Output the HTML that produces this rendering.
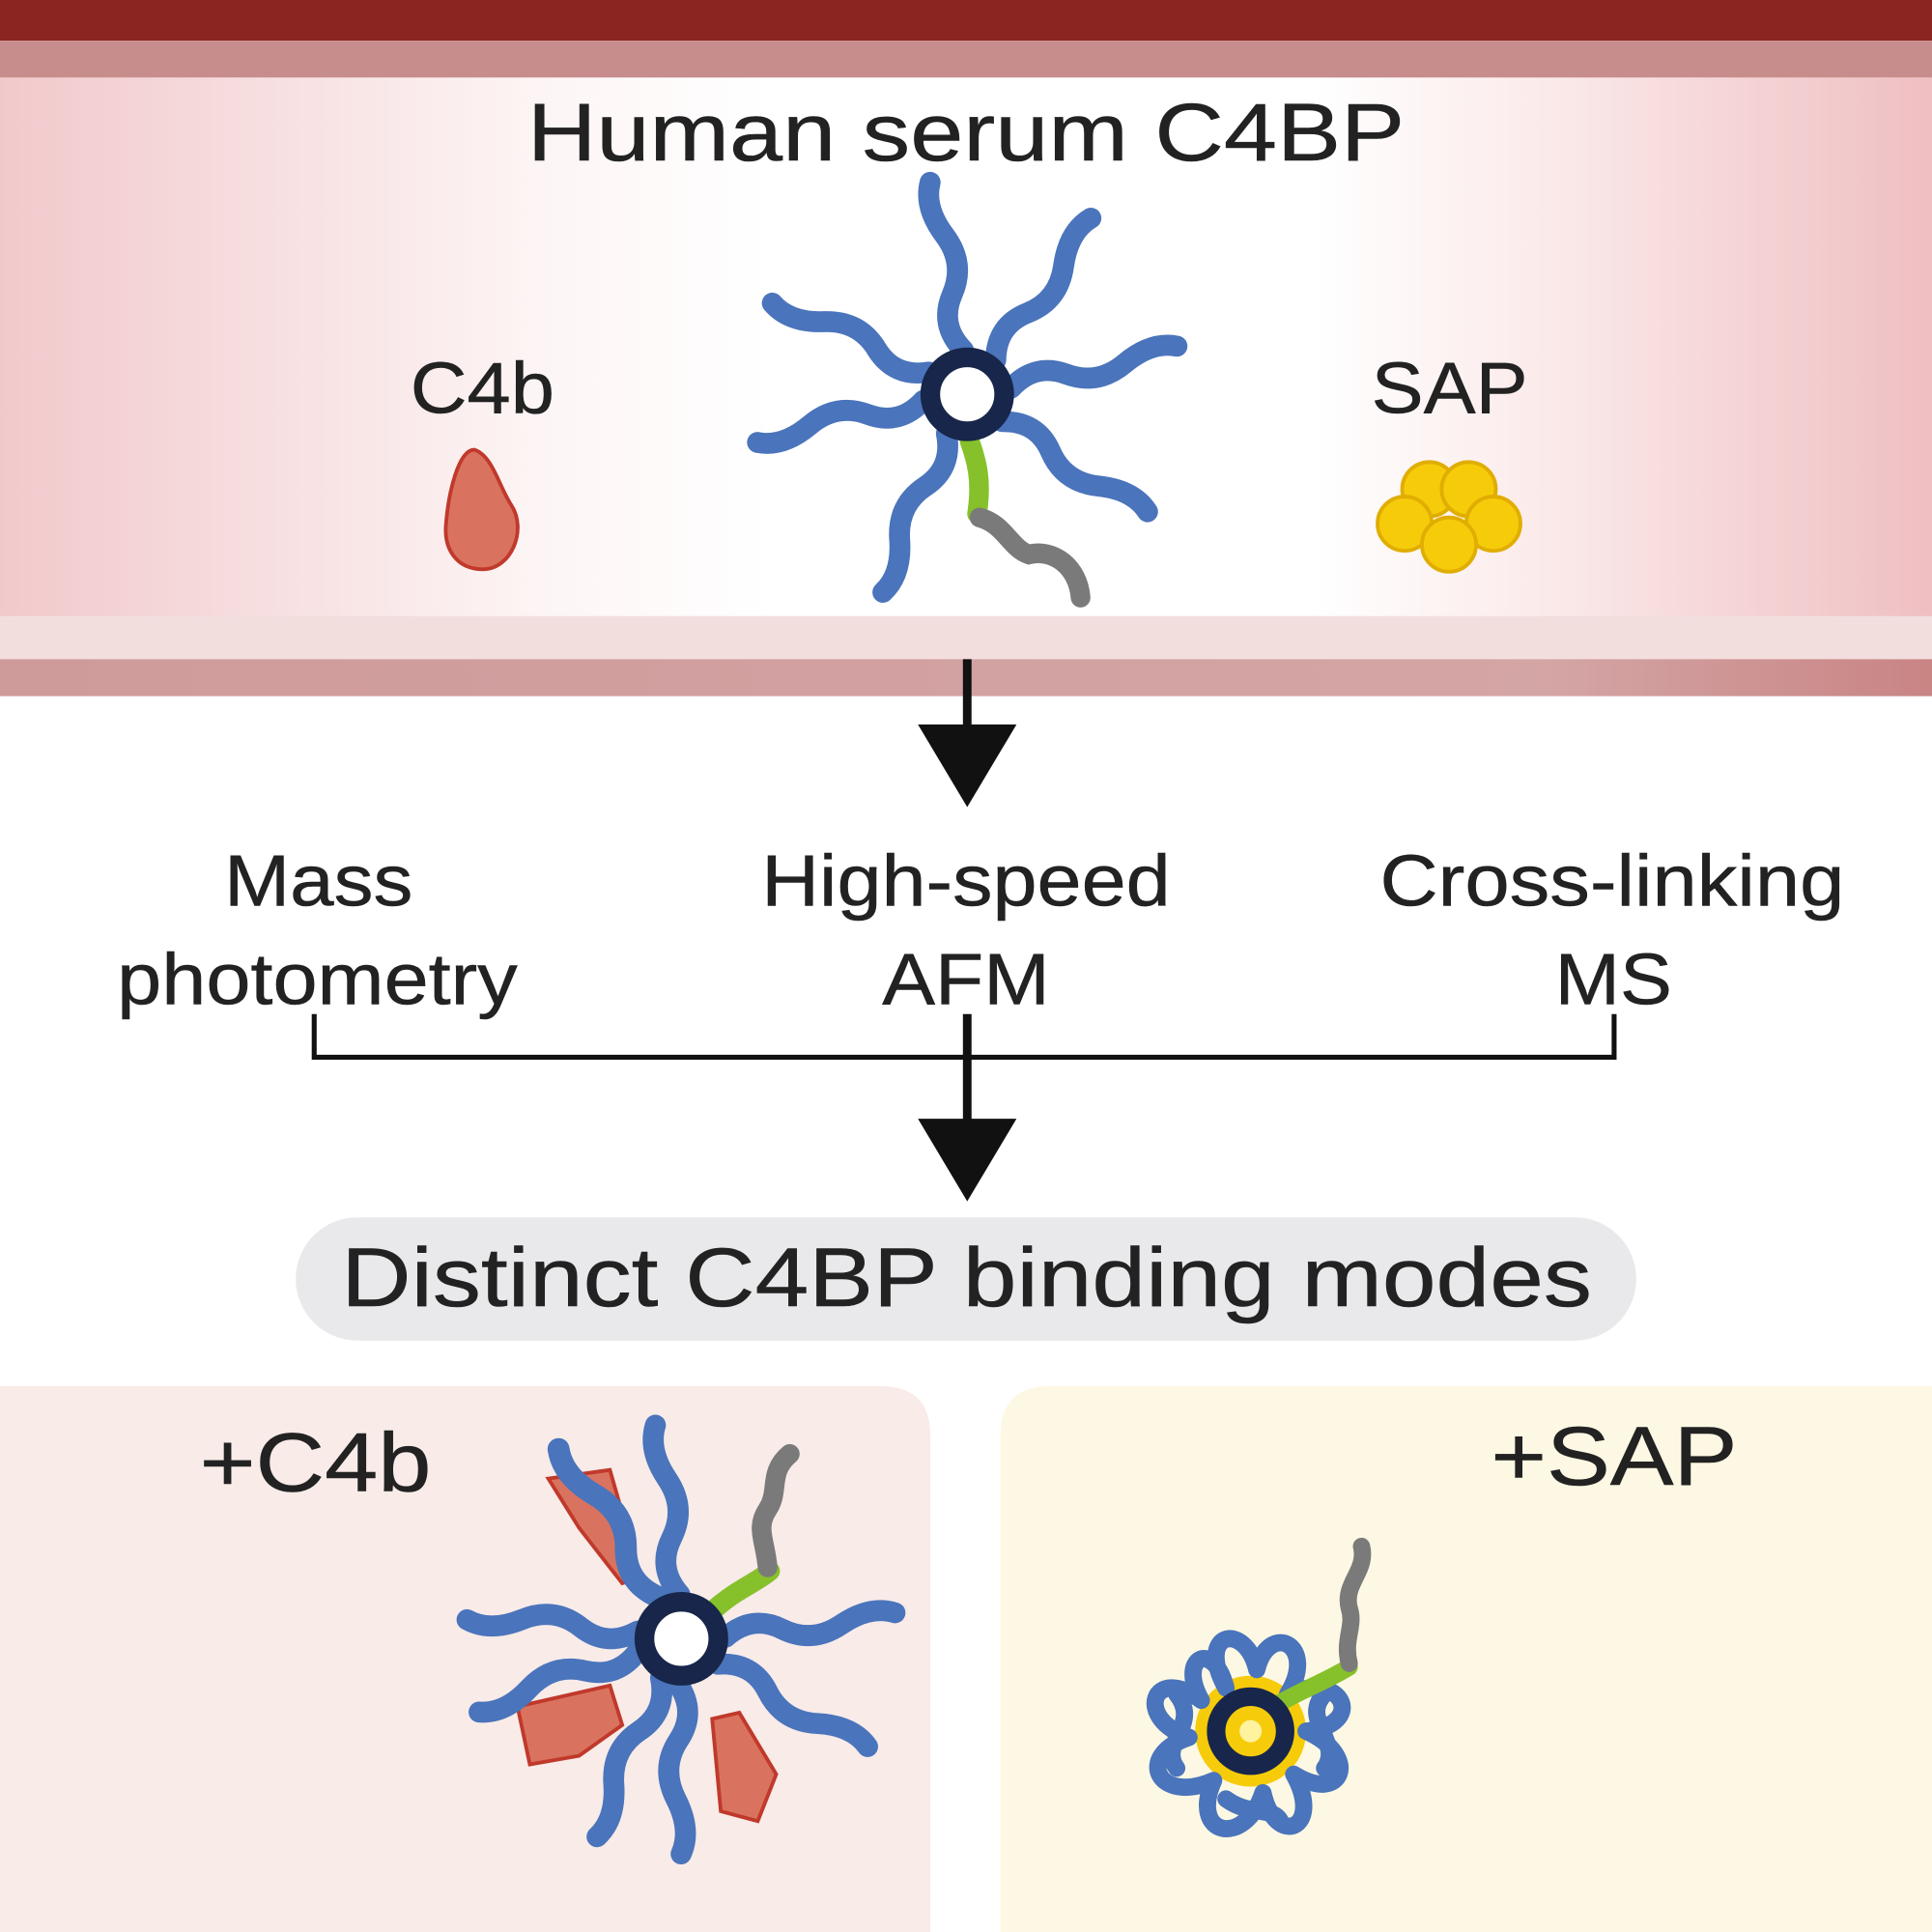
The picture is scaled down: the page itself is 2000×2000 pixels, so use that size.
<!DOCTYPE html>
<html><head><meta charset="utf-8"><style>html,body{margin:0;padding:0;background:#fff}svg{display:block}</style></head>
<body>
<svg width="2000" height="2000" viewBox="0 0 1568 1568" xmlns="http://www.w3.org/2000/svg" font-family="Liberation Sans, sans-serif">
<defs>
<linearGradient id="pk" x1="0" x2="1" y1="0" y2="0">
<stop offset="0" stop-color="#f1c9cb"/><stop offset="0.28" stop-color="#fdf5f5"/><stop offset="0.4" stop-color="#ffffff"/><stop offset="0.68" stop-color="#ffffff"/><stop offset="0.8" stop-color="#fbeaea"/><stop offset="1" stop-color="#efbfc2"/>
</linearGradient>
<linearGradient id="bd" x1="0" x2="1"><stop offset="0" stop-color="#cf9a9a"/><stop offset="0.8" stop-color="#d4a5a5"/><stop offset="1" stop-color="#c98484"/></linearGradient>
<g id="arm"><path d="M36,0 q22,-18 46,-5 t48,-2 t44,-8" fill="none" stroke="#4a74bb" stroke-width="17" stroke-linecap="round"/></g>
</defs>
<rect x="0" y="0" width="1568" height="33" fill="#8a2521"/>
<rect x="0" y="33" width="1568" height="30" fill="#c78d8c"/>
<rect x="0" y="63" width="1568" height="440" fill="url(#pk)"/>
<rect x="0" y="500" width="1568" height="36" fill="#f3dede"/>
<rect x="0" y="535" width="1568" height="30" fill="url(#bd)"/>
<g fill="#222" stroke="#222" stroke-width="0.4">
<text x="428" y="130" font-size="66" textLength="712" lengthAdjust="spacingAndGlyphs">Human serum C4BP</text>
<text x="333" y="335" font-size="59" textLength="117" lengthAdjust="spacingAndGlyphs">C4b</text>
<text x="1113" y="335" font-size="59" textLength="127" lengthAdjust="spacingAndGlyphs">SAP</text>
<text x="182" y="735" font-size="59" textLength="153" lengthAdjust="spacingAndGlyphs">Mass</text>
<text x="95" y="815" font-size="59" textLength="325" lengthAdjust="spacingAndGlyphs">photometry</text>
<text x="618" y="735" font-size="59" textLength="332" lengthAdjust="spacingAndGlyphs">High-speed</text>
<text x="716" y="815" font-size="59" textLength="136" lengthAdjust="spacingAndGlyphs">AFM</text>
<text x="1120" y="735" font-size="59" textLength="377" lengthAdjust="spacingAndGlyphs">Cross-linking</text>
<text x="1262" y="815" font-size="59" textLength="95" lengthAdjust="spacingAndGlyphs">MS</text>
</g>
<path d="M385,365 C400,370 405,395 415,410 C428,430 415,462 392,462 C370,462 360,445 362,425 C364,400 372,365 385,365Z" fill="#d9735f" stroke="#c0392b" stroke-width="3"/>
<g fill="#f6cb0a" stroke="#e0ad00" stroke-width="3">
<circle cx="1160" cy="397" r="22"/><circle cx="1192" cy="397" r="22"/><circle cx="1140" cy="425" r="22"/><circle cx="1212" cy="425" r="22"/><circle cx="1176" cy="442" r="22"/>
</g>
<g transform="translate(785,320)">
<g transform="rotate(-95)"><use href="#arm"/></g>
<g transform="rotate(-50)"><use href="#arm"/></g>
<g transform="rotate(-8)"><use href="#arm"/></g>
<g transform="rotate(38)"><use href="#arm"/></g>
<g transform="rotate(118)"><use href="#arm"/></g>
<g transform="rotate(172)"><use href="#arm"/></g>
<g transform="rotate(-150)"><use href="#arm"/></g>
<path d="M2,38 C8,55 12,70 8,97" fill="none" stroke="#86c12b" stroke-width="16" stroke-linecap="round"/>
<path d="M10,100 C30,105 35,125 50,130 C70,125 90,140 92,165" fill="none" stroke="#7a7a7a" stroke-width="16" stroke-linecap="round"/>
<circle r="30" fill="#fff" stroke="#17264a" stroke-width="16"/>
</g>
<line x1="785" y1="535" x2="785" y2="600" stroke="#111" stroke-width="7"/>
<polygon points="745,588 825,588 785,655" fill="#111"/>
<path d="M255,823 V858 H1310 V823" fill="none" stroke="#111" stroke-width="4"/>
<line x1="785" y1="823" x2="785" y2="915" stroke="#111" stroke-width="7"/>
<polygon points="745,908 825,908 785,975" fill="#111"/>
<rect x="240" y="988" width="1088" height="100" rx="50" fill="#e9e9ec"/>
<text x="277" y="1060" font-size="68" textLength="1015" lengthAdjust="spacingAndGlyphs" fill="#222" stroke="#222" stroke-width="0.4">Distinct C4BP binding modes</text>
<path d="M0,1125 H715 Q755,1125 755,1165 V1568 H0Z" fill="#f8ebe8"/>
<path d="M852,1125 H1568 V1568 H812 V1165 Q812,1125 852,1125Z" fill="#fdf8e3"/>
<text x="162" y="1210" font-size="68" textLength="188" lengthAdjust="spacingAndGlyphs" fill="#222" stroke="#222" stroke-width="0.4">+C4b</text>
<text x="1210" y="1205" font-size="68" textLength="200" lengthAdjust="spacingAndGlyphs" fill="#222" stroke="#222" stroke-width="0.4">+SAP</text>
<g fill="#d9735f" stroke="#c0392b" stroke-width="3">
<path d="M445,1200 L495,1193 L520,1280 L505,1285 L470,1240Z"/>
<path d="M420,1385 L495,1368 L505,1400 L470,1425 L430,1432Z"/>
<path d="M578,1395 L600,1390 L630,1440 L615,1478 L585,1470Z"/>
</g>
<g transform="translate(553,1330)">
<g transform="rotate(-92)"><use href="#arm"/></g>
<g transform="rotate(-118) scale(1.05)"><use href="#arm"/></g>
<g transform="rotate(-2)"><use href="#arm"/></g>
<g transform="rotate(35)"><use href="#arm"/></g>
<g transform="rotate(95)"><use href="#arm"/></g>
<g transform="rotate(118)"><use href="#arm"/></g>
<g transform="rotate(165)"><use href="#arm"/></g>
<g transform="rotate(-170)"><use href="#arm"/></g>
<path d="M28,-25 C45,-40 60,-45 72,-55" fill="none" stroke="#86c12b" stroke-width="16" stroke-linecap="round"/>
<path d="M70,-58 C68,-80 60,-90 70,-105 C80,-120 70,-135 88,-150" fill="none" stroke="#7a7a7a" stroke-width="16" stroke-linecap="round"/>
<circle r="30" fill="#fff" stroke="#17264a" stroke-width="16"/>
</g>
<g transform="translate(1015,1405)">
<circle r="45" fill="#f6cb0a"/>
<g fill="none" stroke="#4a74bb" stroke-width="14" stroke-linecap="round" stroke-linejoin="round">
<path d="M-20,-35 C-45,-80 -5,-90 5,-50 C15,-90 55,-70 30,-30 C75,-50 95,-5 45,0 C90,20 75,60 35,35 C60,80 20,95 10,50 C-5,95 -50,85 -30,40 C-75,60 -95,20 -50,5 C-95,-10 -80,-55 -40,-25 C-60,-60 -30,-75 -20,-35"/>
<path d="M-60,-30 C-40,-5 -75,10 -60,30 M60,-30 C40,-10 75,10 60,30 M-20,55 C0,70 20,60 25,75"/>
</g>
<path d="M22,-22 C45,-35 60,-40 80,-52" fill="none" stroke="#86c12b" stroke-width="14" stroke-linecap="round"/>
<path d="M80,-55 C75,-75 85,-85 80,-100 C75,-120 95,-130 90,-150" fill="none" stroke="#7a7a7a" stroke-width="14" stroke-linecap="round"/>
<circle r="28" fill="#f6cb0a" stroke="#17264a" stroke-width="15"/>
<circle r="9" fill="#fff3a0"/>
</g>
</svg>
</body></html>
